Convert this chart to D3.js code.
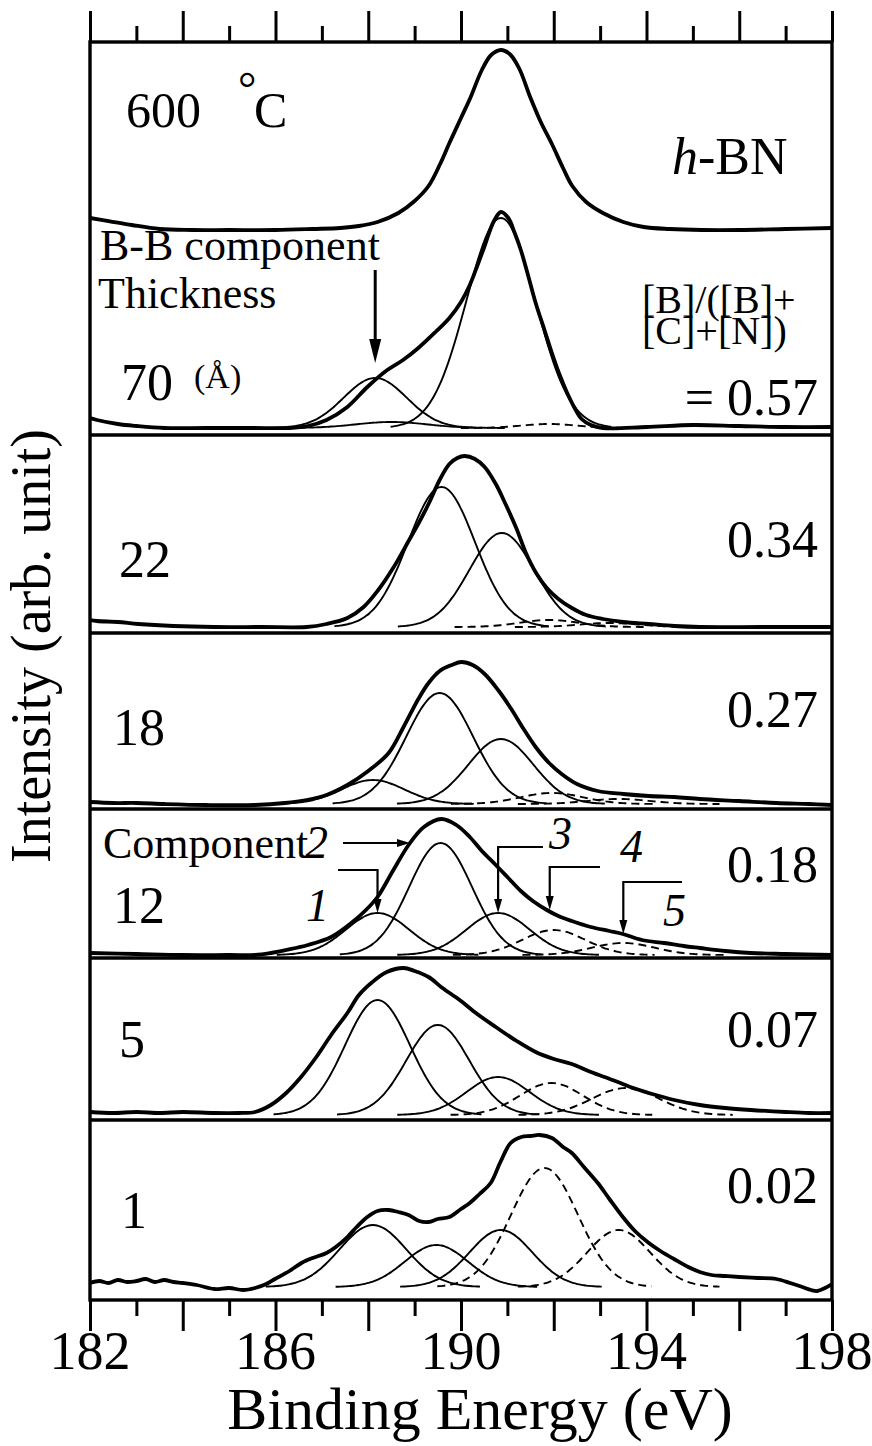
<!DOCTYPE html>
<html>
<head>
<meta charset="utf-8">
<script src="https://cdn.jsdelivr.net/npm/d3@7"></script>
<style>
  html, body { margin: 0; padding: 0; background: #fff; }
</style>
</head>
<body>
<svg id="chart" width="872" height="1446"></svg>
<script>
// ---- binding-energy axis ----
const energyDomain = [182, 198];
const majorTicks = [182, 184, 186, 188, 190, 192, 194, 196, 198];
const minorTicks = [183, 185, 187, 189, 191, 193, 195, 197];
const tickLabels = [182, 186, 190, 194, 198];

// ---- spectra, top to bottom: reference h-BN, then film thickness in Å ----
const panelNames = ["h-BN", "70", "22", "18", "12", "5", "1"];
const ratioLabels = ["", "= 0.57", "0.34", "0.27", "0.18", "0.07", "0.02"];
// stacking offset of each spectrum baseline (arb. units)
const baselineOffsets = [1070, 872, 673, 496, 345, 185, 13];
// boundaries between the stacked panels (arb. units)
const panelSeparators = [865, 667, 491, 342, 180];

// measured B 1s spectra: [binding energy (eV), intensity above baseline]
const specHBN = [[182.0,12],[182.4,9],[182.9,5],[183.5,1],[184.2,0],[185.0,0],[186.0,0],[186.8,1],[187.4,2],[187.8,4],[188.2,8],[188.65,17],[189.0,29],[189.3,44],[189.55,66],[189.75,87],[190.0,112],[190.2,132],[190.45,160],[190.65,175],[190.86,180],[191.05,176],[191.25,162],[191.5,132],[191.72,108],[191.96,86],[192.2,62],[192.4,44],[192.7,28],[193.06,17],[193.5,8],[193.94,3],[194.5,1],[195.2,0],[196.0,0],[197.0,1],[198.0,2]];
const spec70 = [[182.0,10],[182.15,8],[182.6,4],[183.0,2],[183.6,0],[184.5,0],[185.5,0],[186.3,0],[186.7,2],[187.1,8],[187.55,21],[187.98,41],[188.41,58],[188.75,68],[189.08,80],[189.45,96],[189.75,110],[190.0,126],[190.19,143],[190.35,162],[190.51,182],[190.7,206],[190.86,216],[191.02,210],[191.15,196],[191.29,178],[191.45,152],[191.61,125],[191.8,98],[191.96,75],[192.12,54],[192.28,36],[192.45,20],[192.6,9],[192.8,3],[193.06,0],[194.0,1],[195.0,3],[196.0,2],[197.0,1],[198.0,1]];
const spec22 = [[182.0,7],[182.15,6],[182.6,5],[183.04,3],[183.8,1],[184.68,0],[185.7,0],[186.67,0],[187.1,3],[187.55,9],[187.9,20],[188.2,36],[188.55,60],[188.87,86],[189.1,105],[189.3,123],[189.55,148],[189.75,163],[189.92,169],[190.08,171],[190.3,168],[190.51,160],[190.75,143],[190.96,123],[191.2,98],[191.4,74],[191.62,54],[191.85,39],[192.1,28],[192.39,19],[192.7,12],[193.06,8],[193.5,5],[194.05,3],[194.6,1],[195.15,0],[196.5,0],[198.0,0]];
const spec18 = [[182.0,2],[182.5,1],[183.0,1],[183.6,0],[184.5,-1],[185.56,-1],[186.2,1],[186.67,4],[187.1,9],[187.55,19],[188.0,33],[188.44,51],[188.75,76],[189.08,105],[189.3,121],[189.54,133],[189.8,139],[190.01,142],[190.25,139],[190.51,130],[190.8,114],[191.07,96],[191.35,75],[191.61,57],[191.9,41],[192.17,30],[192.5,20],[192.95,13],[193.5,10],[194.05,8],[194.6,7],[195.15,5],[196.0,3],[196.8,1],[197.5,0],[198.0,-1]];
const spec12 = [[182.0,2],[183.0,1],[184.0,0],[185.0,0],[185.56,0],[185.9,2],[186.23,5],[186.7,10],[187.2,18],[187.66,33],[187.95,45],[188.2,58],[188.53,84],[188.87,110],[189.2,128],[189.58,136],[189.9,130],[190.19,118],[190.45,104],[190.75,90],[191.0,78],[191.29,64],[191.55,54],[191.85,45],[192.1,39],[192.39,34],[192.8,28],[193.2,24],[193.49,21],[193.9,15],[194.38,12],[194.8,9],[195.15,7],[195.7,4],[196.25,2],[197.0,1],[198.0,0]];
const spec5 = [[182.0,3],[182.5,2],[183.0,3],[183.5,2],[184.0,3],[184.68,2],[185.2,2],[185.56,3],[185.9,10],[186.23,22],[186.55,38],[186.88,58],[187.2,80],[187.55,102],[187.8,120],[188.09,133],[188.4,143],[188.76,147],[189.0,144],[189.3,138],[189.6,127],[189.97,115],[190.35,101],[190.75,88],[191.2,74],[191.61,63],[192.0,56],[192.39,51],[192.8,43],[193.27,35],[193.65,28],[194.05,22],[194.6,15],[195.15,10],[195.7,7],[196.25,5],[197.0,3],[197.5,2],[198.0,2]];
const spec1 = [[182.0,4],[182.2,6],[182.4,4],[182.6,7],[182.8,5],[183.0,6],[183.2,8],[183.4,5],[183.6,7],[183.8,5],[184.0,4],[184.3,2],[184.68,-2],[185.0,-1],[185.3,-3],[185.56,-1],[185.8,3],[185.99,8],[186.3,16],[186.56,24],[186.8,29],[187.1,34],[187.3,40],[187.55,50],[187.75,60],[187.98,70],[188.2,76],[188.44,77],[188.65,75],[188.87,72],[189.1,66],[189.3,65],[189.5,68],[189.75,70],[190.0,78],[190.19,84],[190.4,93],[190.64,104],[190.85,125],[191.07,144],[191.3,150],[191.5,151],[191.7,152],[191.96,149],[192.2,140],[192.39,134],[192.65,120],[192.95,104],[193.2,88],[193.49,70],[193.75,56],[194.05,44],[194.3,36],[194.59,28],[194.9,20],[195.15,15],[195.4,12],[195.69,11],[196.0,10],[196.4,9],[196.8,8],[197.1,4],[197.36,0],[197.55,-3],[197.68,-4],[197.85,-1],[198.0,3]];

// fitted components: [position (eV), height, FWHM (eV), component no. (4 and 5 drawn dashed)]
const compsHBN = [];
const comps70 = [[188.15,50,1.6,1],[188.5,6,1.8,2],[190.86,210,1.75,3],[191.9,4,1.4,4]];
const comps22 = [[189.58,140,1.7,2],[190.88,94,1.65,3],[191.9,7,1.5,4],[193.2,4,1.5,5]];
const comps18 = [[188.1,24,1.6,1],[189.54,111,1.7,2],[190.86,65,1.65,3],[191.96,11,1.6,4],[193.4,5,1.6,5]];
const comps12 = [[188.2,42,1.6,1],[189.56,112,1.6,2],[190.8,42,1.6,3],[192.0,25,1.6,4],[193.5,12,1.6,5]];
const comps5 = [[188.2,115,1.65,1],[189.5,90,1.6,2],[190.8,38,1.6,3],[191.95,32,1.6,4],[193.55,27,1.7,5]];
const comps1 = [[188.1,62,1.7,1],[189.47,42,1.6,2],[190.86,57,1.6,3],[191.8,119,1.7,4],[193.4,57,1.6,5]];

const spectra = [specHBN, spec70, spec22, spec18, spec12, spec5, spec1];
const components = [compsHBN, comps70, comps22, comps18, comps12, comps5, comps1];

// ---- layout ----
const FONT = '"Liberation Serif", "Times New Roman", Times, serif';
const plot = { left: 90, right: 832, top: 42, bottom: 1300 };
const svg = d3.select("#chart");

const x = d3.scaleLinear().domain(energyDomain).range([plot.left, plot.right]);
const y = d3.scaleLinear().domain([0, plot.bottom - plot.top]).range([plot.bottom, plot.top]);

svg.append("defs").append("clipPath").attr("id", "plotClip")
  .append("rect")
  .attr("x", plot.left).attr("y", plot.top)
  .attr("width", plot.right - plot.left).attr("height", plot.bottom - plot.top);

const body = svg.append("g").attr("clip-path", "url(#plotClip)");

// Gaussian line shape of one fitted component
function componentCurve(c) {
  const [pos, height, fwhm] = c;
  const sigma = fwhm / 2.3548;
  const lo = Math.max(energyDomain[0], pos - 3.2 * sigma);
  const hi = Math.min(energyDomain[1], pos + 3.2 * sigma);
  const n = 80;
  return d3.range(n + 1).map(i => {
    const e = lo + (hi - lo) * i / n;
    return [e, height * Math.exp(-((e - pos) ** 2) / (2 * sigma * sigma))];
  });
}

// separators between stacked panels
body.selectAll("line.sep").data(panelSeparators).join("line")
  .attr("class", "sep")
  .attr("x1", plot.left).attr("x2", plot.right)
  .attr("y1", d => y(d)).attr("y2", d => y(d))
  .attr("stroke", "#000").attr("stroke-width", 3.4);

spectra.forEach((spec, i) => {
  const off = baselineOffsets[i];
  const line = d3.line()
    .x(d => x(d[0]))
    .y(d => y(d[1] + off))
    .curve(d3.curveCatmullRom.alpha(0.5));

  components[i].forEach(c => {
    body.append("path")
      .attr("d", line(componentCurve(c)))
      .attr("fill", "none")
      .attr("stroke", "#000")
      .attr("stroke-width", 1.9)
      .attr("stroke-dasharray", c[3] >= 4 ? "8,5" : null);
  });

  body.append("path")
    .attr("d", line(spec))
    .attr("fill", "none")
    .attr("stroke", "#000")
    .attr("stroke-width", 3.8)
    .attr("stroke-linejoin", "round");
});

// ---- frame and ticks ----
svg.append("rect")
  .attr("x", plot.left).attr("y", plot.top)
  .attr("width", plot.right - plot.left).attr("height", plot.bottom - plot.top)
  .attr("fill", "none").attr("stroke", "#000").attr("stroke-width", 3.4);

function tickAxis(gen, values, size, yPos) {
  const g = svg.append("g").attr("transform", `translate(0,${yPos})`)
    .call(gen(x).tickValues(values).tickSize(size).tickFormat(""));
  g.select(".domain").remove();
  g.selectAll(".tick text").remove();
  g.selectAll(".tick line").attr("stroke", "#000").attr("stroke-width", 3);
}
tickAxis(d3.axisTop, majorTicks, 31, plot.top);
tickAxis(d3.axisTop, minorTicks, 16, plot.top);
tickAxis(d3.axisBottom, majorTicks, 31, plot.bottom);
tickAxis(d3.axisBottom, minorTicks, 16, plot.bottom);

const labels = svg.append("g").attr("class", "labels");

labels.selectAll("text.tickLabel").data(tickLabels).join("text")
  .attr("class", "tickLabel")
  .attr("x", d => x(d)).attr("y", 1369)
  .attr("text-anchor", "middle")
  .attr("font-size", 54)
  .text(d => d);

labels.append("text")
  .attr("x", 480).attr("y", 1429)
  .attr("text-anchor", "middle").attr("font-size", 60)
  .text("Binding Energy (eV)");

labels.append("text")
  .attr("transform", "translate(50,646) rotate(-90)")
  .attr("text-anchor", "middle").attr("font-size", 56)
  .text("Intensity (arb. unit)");

// ---- panel annotations ----
const txt = (xp, yp, s, size, opts = {}) => {
  const t = labels.append("text").attr("x", xp).attr("y", yp)
    .attr("font-size", size).text(s);
  if (opts.anchor) t.attr("text-anchor", opts.anchor);
  if (opts.italic) t.attr("font-style", "italic");
  return t;
};

// top panel: temperature and reference
txt(126, 127, "600", 50);
txt(238, 104, "°", 46);
txt(254, 127, "C", 50);
const hbn = labels.append("text").attr("x", 672).attr("y", 174).attr("font-size", 52);
hbn.append("tspan").attr("font-style", "italic").text("h");
hbn.append("tspan").text("-BN");

// thickness labels
const thickY = [null, 400, 577, 745, 923, 1057, 1228];
const thickX = [null, 121, 119, 113, 113, 119, 121];
panelNames.forEach((name, i) => {
  if (i === 0) return;
  txt(thickX[i], thickY[i], name, 52);
});
txt(194, 388, "(Å)", 34);
txt(100, 260, "B-B component", 44);
txt(98, 308, "Thickness", 44);

// composition ratio labels
txt(642, 313, "[B]/([B]+", 40);
txt(642, 344, "[C]+[N])", 40);
const ratioY = [null, 415, 557, 727, 882, 1047, 1203];
ratioLabels.forEach((r, i) => {
  if (!r) return;
  txt(818, ratioY[i], r, 52, { anchor: "end" });
});

// arrows
function arrowHead(tipX, tipY, dir, len, half) {
  let pts;
  if (dir === "down") pts = [[tipX, tipY], [tipX - half, tipY - len], [tipX + half, tipY - len]];
  else pts = [[tipX, tipY], [tipX - len, tipY - half], [tipX - len, tipY + half]];
  svg.append("path").attr("d", d3.line()(pts) + "Z").attr("fill", "#000");
}
function stroke(pts, w) {
  svg.append("path").attr("d", d3.line()(pts)).attr("fill", "none")
    .attr("stroke", "#000").attr("stroke-width", w);
}

// B-B component arrow in the 70 Å spectrum
{
  const bx = x(comps70[0][0]);
  const tip = y(baselineOffsets[1] + comps70[0][1] + 15);
  stroke([[bx, 270], [bx, tip - 18]], 3);
  arrowHead(bx, tip, "down", 24, 6);
}

// component labels in the 12 Å spectrum
{
  const off = baselineOffsets[4];
  txt(103, 858, "Component", 44);
  txt(305, 858, "2", 46, { italic: true });
  txt(306, 921, "1", 46, { italic: true });
  txt(549, 849, "3", 46, { italic: true });
  txt(620, 862, "4", 46, { italic: true });
  txt(663, 926, "5", 46, { italic: true });

  // 2: horizontal arrow to the rising edge
  stroke([[343, 843], [398, 843]], 2.2);
  arrowHead(410, 843, "right", 13, 4);

  // 1, 3: bent arrows to component maxima; 4, 5: to the envelope
  const bent = (x0, yTop, x1, tipY) => {
    stroke([[x1, yTop], [x0, yTop], [x0, tipY - 12]], 2.2);
    arrowHead(x0, tipY, "down", 14, 4);
  };
  const c = comps12;
  bent(x(c[0][0]), 870, 338, y(off + c[0][1]));
  bent(x(c[2][0]), 847, 543, y(off + c[2][1]));
  bent(x(c[3][0]) - 4, 867, 600, y(off + 45));
  bent(x(c[4][0]), 882, 682, y(off + 21));
}

// serif face on every label
svg.selectAll("text").style("font-family", FONT).style("fill", "#000");
</script>
</body>
</html>
